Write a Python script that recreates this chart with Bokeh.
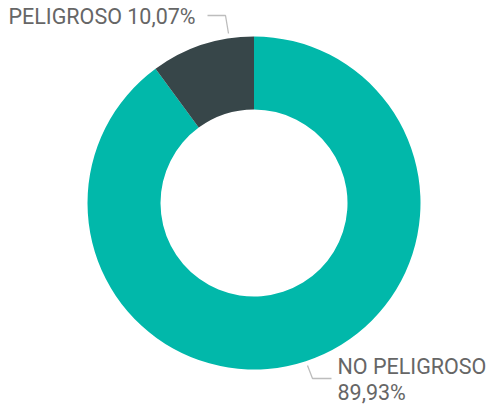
import numpy as np
from bokeh.plotting import figure
from bokeh.models import Range1d, ColumnDataSource
from bokeh.core.properties import value
from bokeh.embed import file_html
from bokeh.resources import INLINE

categories = ["NO PELIGROSO", "PELIGROSO"]
shares = [89.93, 10.07]
colors = ["#01B8AA", "#374649"]
label_texts = ["NO PELIGROSO", "89,93%", "PELIGROSO 10,07%"]

W, H = 489, 405
# page y -> data y (figure drawn at page origin)
def py(y):
    return H - y
def px(x):
    return x

p = figure(width=W, height=H, output_backend="svg", toolbar_location=None,
           x_range=Range1d(0, W), y_range=Range1d(0, H), min_border=0,
           outline_line_color=None)
p.axis.visible = False
p.grid.visible = False
p.background_fill_color = "white"
p.border_fill_color = "white"

frac = np.array(shares) / np.sum(shares)
ends = np.pi / 2 - 2 * np.pi * np.cumsum(frac)
starts = np.concatenate([[np.pi / 2], ends[:-1]])

src = ColumnDataSource(dict(cat=categories, start=starts, end=ends, color=colors))
cx, cy = px(253.5), py(202.5)
p.annular_wedge(x=cx, y=cy, inner_radius=93.5, outer_radius=166.5,
                inner_radius_units="screen", outer_radius_units="screen",
                start_angle="end", end_angle="start", fill_color="color",
                line_color=None, source=src)

# leader lines
p.line(x=[px(207), px(225), px(228)], y=[py(15), py(15), py(33)],
       line_color="#bdbdbd", line_width=1.3)
p.line(x=[px(307), px(312), px(331)], y=[py(365), py(378), py(378)],
       line_color="#bdbdbd", line_width=1.3)

font = value("Roboto")
p.text(x=[px(8)], y=[py(16)], text=[label_texts[2]], text_font=font,
       text_font_size="21.5px", text_color="#666666", text_baseline="middle",
       text_align="left")
p.text(x=[px(337), px(337)], y=[py(365.5), py(391.5)], text=label_texts[:2], text_font=font,
       text_font_size="21.5px", text_color="#666666", text_baseline="middle",
       text_align="left")

open("out.html", "w").write(file_html(p, INLINE))
